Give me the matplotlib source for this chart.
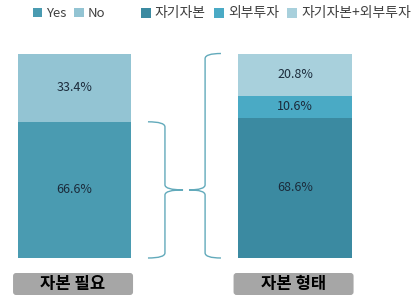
import matplotlib
matplotlib.use("Agg")
import matplotlib.pyplot as plt
from matplotlib.path import Path
from matplotlib.patches import PathPatch, FancyBboxPatch

plt.rcParams['font.family'] = ['Noto Sans CJK KR', 'DejaVu Sans']

# data
categories = ['자본 필요', '자본 형태']
need_labels = ['Yes', 'No']
need_values = [66.6, 33.4]
form_labels = ['자기자본', '외부투자', '자기자본+외부투자']
form_values = [68.6, 10.6, 20.8]

need_colors = ['#4a9bb1', '#93c4d3']
form_colors = ['#3b8aa1', '#4aaac5', '#a8d0dc']
brace_color = '#62aabb'
text_color = '#1b2b3b'

fig = plt.figure(figsize=(4.19, 3.07), dpi=100)
ax = fig.add_axes([0, 1 - 258 / 307, 1, (258 - 53.5) / 307])
ax.set_xlim(-0.338, 1.562)
ax.set_ylim(0, 100)
ax.axis('off')

x = [0, 1]
width = 0.515

# left bar: Yes / No
need_bars = []
bottom = 0
for lab, val, col in zip(need_labels, need_values, need_colors):
    b = ax.bar(x[0], val, width, bottom=bottom, color=col, label=lab, linewidth=0)
    ax.text(x[0], bottom + val / 2, f'{val:.1f}%', ha='center', va='center',
            fontsize=9, color=text_color)
    need_bars.append(b)
    bottom += val

# right bar: capital type
form_bars = []
bottom = 0
for lab, val, col in zip(form_labels, form_values, form_colors):
    b = ax.bar(x[1], val, width, bottom=bottom, color=col, label=lab, linewidth=0)
    ax.text(x[1], bottom + val / 2, f'{val:.1f}%', ha='center', va='center',
            fontsize=9, color=text_color)
    form_bars.append(b)
    bottom += val


def brace(x_end, x_line, x_tip, y0, y1, ym, r=2.5):
    verts = [(x_end, y1), (x_line, y1), (x_line, y1 - r),
             (x_line, ym + r), (x_line, ym), (x_tip, ym),
             (x_line, ym), (x_line, ym - r),
             (x_line, y0 + r), (x_line, y0), (x_end, y0)]
    codes = [Path.MOVETO, Path.CURVE3, Path.CURVE3,
             Path.LINETO, Path.CURVE3, Path.CURVE3,
             Path.CURVE3, Path.CURVE3,
             Path.LINETO, Path.CURVE3, Path.CURVE3]
    ax.add_patch(PathPatch(Path(verts, codes), fill=False, edgecolor=brace_color,
                           linewidth=1.0, clip_on=False))


yes_mid = need_values[0] / 2
brace(0.333, 0.410, 0.492, 0, need_values[0], yes_mid)
brace(0.664, 0.592, 0.519, 0, sum(form_values), yes_mid)

# category label boxes
inv = fig.transFigure.inverted()
box_w = 120 / 419
box_h = 22 / 307
box_y = 1 - 295 / 307
for xi, cat in zip(x, categories):
    xc = inv.transform(ax.transData.transform((xi, 0)))[0] - 1.5 / 419
    fig.patches.append(FancyBboxPatch(
        (xc - box_w / 2, box_y), box_w, box_h,
        boxstyle='round,pad=0,rounding_size=%f' % (3 / 419),
        mutation_aspect=419 / 307, transform=fig.transFigure,
        facecolor='#a6a6a6', edgecolor='none'))
    fig.text(xc, box_y + box_h / 2, cat, ha='center', va='center',
             fontsize=12, fontweight='bold', color='black')

# legends
leg_kw = dict(frameon=False, handlelength=0.7, handleheight=0.7,
              handletextpad=0.3, borderpad=0, borderaxespad=0,
              labelcolor='#404040', bbox_transform=fig.transFigure, loc='center left')
leg1 = ax.legend(handles=need_bars, labels=need_labels, ncol=2, fontsize=9.5,
                 columnspacing=0.6, bbox_to_anchor=(33 / 419, 1 - 13.5 / 307), **leg_kw)
ax.add_artist(leg1)
ax.legend(handles=form_bars, labels=form_labels, ncol=3, fontsize=10,
          columnspacing=0.6, bbox_to_anchor=(141 / 419, 1 - 13.5 / 307), **leg_kw)

fig.savefig('out.png', dpi=100, facecolor='white')
